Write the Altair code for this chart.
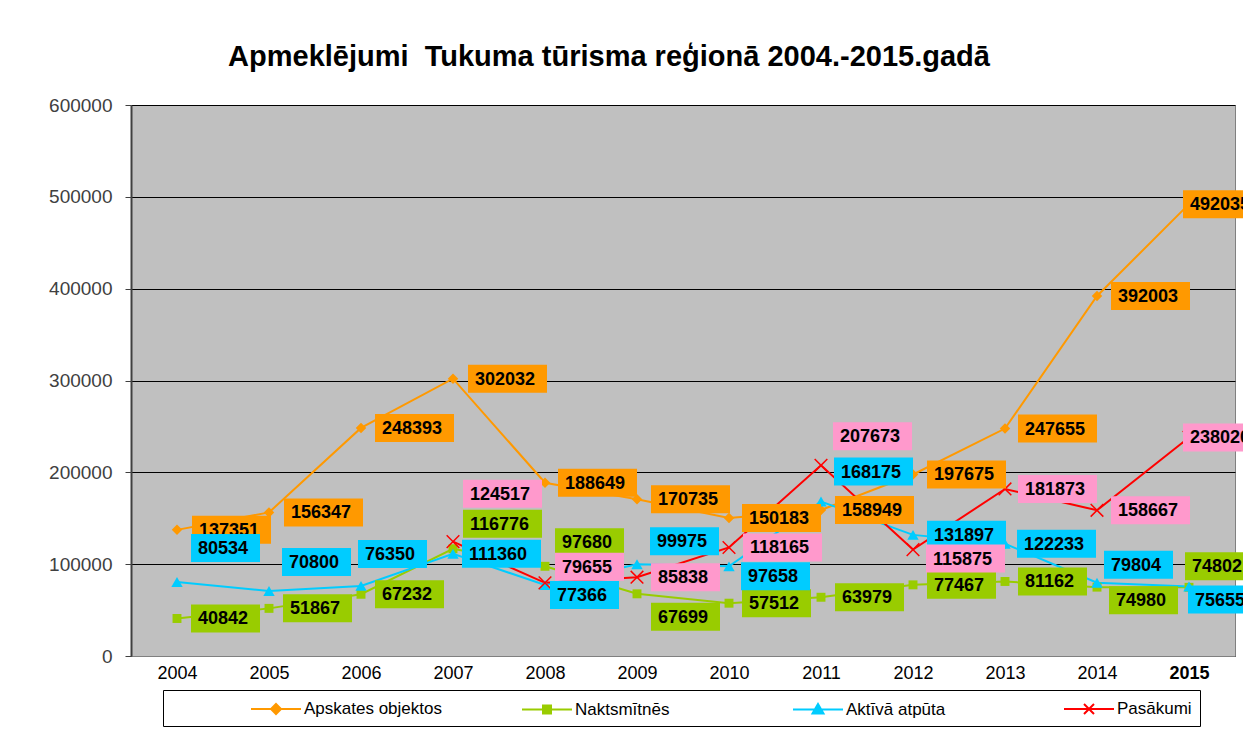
import altair as alt
import pandas as pd

# ---------------- data ----------------
YEARS = [str(y) for y in range(2004, 2016)]
SERIES = ["Apskates objektos", "Naktsmītnēs", "Aktīvā atpūta", "Pasākumi"]

APSKATES = [137351, 156347, 248393, 302032, 188649, 170735, 150183, 158949, 197675, 247655, 392003, 492035]
NAKTS = [40842, 51867, 67232, 116776, 97680, 67699, 57512, 63979, 77467, 81162, 74980, 74802]
AKTIVA = [80534, 70800, 76350, 111360, 77366, 99975, 97658, 168175, 131897, 122233, 79804, 75655]
PASAKUMI_YEARS = [str(y) for y in range(2007, 2016)]
PASAKUMI = [124517, 79655, 85838, 118165, 207673, 115875, 181873, 158667, 238020]

# ---------------- style / layout ----------------
LINE_COLORS = ["#FF9900", "#99CC00", "#00CCFF", "#FF0000"]
BOX_COLORS = ["#FF9900", "#99CC00", "#00CCFF", "#FF99CC"]
BOX_W = {5: 69, 6: 79}
BOX_H = 28
PLOT_W, PLOT_H = 1104, 551
Y_MAX = 600000
# label box offsets (pixels) from the data point
LX = [
    [15, 15, 14, 15, 13, 14, 13, 14, 14, 13, 14, -6],
    [14, 14, 14, 10, 10, 14, 13, 14, 14, 13, 12, -4],
    [14, 13, -3, 9, 5, 13, 12, 13, 14, 12, 7, -1],
    [10, 10, 14, 14, 12, 13, 13, 14, -6],
]
LY = [
    [0] * 12,
    [0, 0, 0, -25, -24, 23, 0, 0, 0, 0, 13, -21],
    [-34, -29, -32, 0, 10, -23, 10, -30, 0, 0, -18, 13],
    [-48, -16, 0, 0, -29, 9, 0, 0, 0],
]
FONT = "Liberation Sans"
NBSP = "\u00a0"

series_years = [YEARS, YEARS, YEARS, PASAKUMI_YEARS]
series_vals = [APSKATES, NAKTS, AKTIVA, PASAKUMI]

rows = []
for i, s in enumerate(SERIES):
    for y, v, lx, ly in zip(series_years[i], series_vals[i], LX[i], LY[i]):
        lab = str(v)
        w = BOX_W[len(lab)]
        rows.append(dict(year=y, series=s, value=v, label=lab, lx=lx, ly=ly,
                         box=f"M0,{-BOX_H/2}h{w}v{BOX_H}h{-w}Z"))
df = pd.DataFrame(rows)

x_enc = alt.X("year:O", scale=alt.Scale(type="point", padding=0.5, domain=YEARS),
              axis=alt.Axis(title=None, labelAngle=0, ticks=False, domain=True,
                            domainColor="#808080", labelFont=FONT, labelFontSize=18,
                            labelColor="black", labelPadding=8,
                            labelFontWeight={"condition": {"test": "datum.label == '2015'", "value": "bold"},
                                             "value": "normal"}))
y_scale = alt.Scale(domain=[0, Y_MAX])
y_axis = alt.Axis(title=None, values=[0, 100000, 200000, 300000, 400000, 500000, 600000],
                  format="d", grid=True, gridColor="black", gridWidth=1, gridOpacity=1,
                  domainColor="#404040", domainWidth=2, tickColor="#404040", tickSize=6,
                  labelFont=FONT, labelFontSize=19, labelColor="#404040", labelPadding=13)
y_enc = alt.Y("value:Q", scale=y_scale, axis=y_axis, title=None)
y_lab = alt.Y("label_v:Q", scale=y_scale, axis=y_axis, title=None)

base = alt.Chart(df)
marker_styles = [
    dict(shape="diamond", size=110, filled=True),
    dict(shape="square", size=80, filled=True),
    dict(shape="triangle-up", size=130, filled=True),
    dict(shape="M-1,-1L1,1M-1,1L1,-1", size=160, filled=False, strokeWidth=1.5),
]

layers = []
for i, s in enumerate(SERIES):
    layers.append(base.transform_filter(alt.datum.series == s)
                  .mark_line(color=LINE_COLORS[i], strokeWidth=2)
                  .encode(x=x_enc, y=y_enc))
for i, s in enumerate(SERIES):
    st = marker_styles[i]
    kw = dict(color=LINE_COLORS[i], opacity=1, shape=st["shape"], size=st["size"], filled=st["filled"])
    if "strokeWidth" in st:
        kw["strokeWidth"] = st["strokeWidth"]
    layers.append(base.transform_filter(alt.datum.series == s)
                  .mark_point(**kw).encode(x=x_enc, y=y_enc))
for i, s in enumerate(SERIES):
    sub = (base.transform_filter(alt.datum.series == s)
           .transform_calculate(label_v=f"datum.value - datum.ly * {Y_MAX / PLOT_H}"))
    layers.append(sub.mark_point(filled=True, color=BOX_COLORS[i], opacity=1, size=4, strokeWidth=0)
                  .encode(x=x_enc, y=y_lab,
                          shape=alt.Shape("box:N", scale=None),
                          xOffset=alt.XOffset("lx:Q", scale=None)))
    layers.append(sub.mark_text(align="left", baseline="middle", dx=7, dy=1, font=FONT, fontSize=18,
                                fontWeight="bold", color="black")
                  .encode(x=x_enc, y=y_lab, text="label:N",
                          xOffset=alt.XOffset("lx:Q", scale=None)))

LEGEND_SHAPES = [
    "M-1,0H4M1.5,-0.5L2,0L1.5,0.5L1,0Z",
    "M-1,0H4M1.1,-0.4H1.9V0.4H1.1Z",
    "M-1,0H4M1.5,-0.55L2.05,0.4L0.95,0.4Z",
    "M-1,0H4M1,-0.5L2,0.5M1,0.5L2,-0.5",
]
leg = alt.Legend(title=None, orient="none", legendX=32, legendY=585, direction="horizontal",
                 columns=4, gridAlign="all", columnPadding=-10, padding=8, strokeColor="black",
                 labelFont=FONT, labelFontSize=17, labelColor="black",
                 symbolOffset=79, labelOffset=32, labelLimit=400,
                 symbolSize=400, symbolStrokeWidth=2)
layers.append(base.transform_filter("false")
              .mark_point(filled=True, opacity=1, size=400, strokeWidth=2)
              .encode(x=x_enc, y=y_enc,
                      color=alt.Color("series:N", scale=alt.Scale(domain=SERIES, range=LINE_COLORS), legend=leg),
                      stroke=alt.Stroke("series:N", scale=alt.Scale(domain=SERIES, range=LINE_COLORS), legend=leg),
                      shape=alt.Shape("series:N", scale=alt.Scale(domain=SERIES, range=LEGEND_SHAPES), legend=leg)))

chart = (alt.layer(*layers)
         .properties(width=PLOT_W, height=PLOT_H,
                     title=alt.TitleParams(f"Apmeklējumi {NBSP}Tukuma tūrisma reģionā 2004.-2015.gadā",
                                           font=FONT, fontSize=29, fontWeight="bold", color="black",
                                           anchor="middle", dx=-74, offset=24),
                     autosize=alt.AutoSizeParams(type="none"),
                     padding={"left": 123, "top": 97, "right": 8, "bottom": 72},
                     background="white")
         .configure_view(fill="#C0C0C0", stroke="#808080", strokeWidth=1))

chart.save("out.html", embed_options={"renderer": "svg", "actions": False})
